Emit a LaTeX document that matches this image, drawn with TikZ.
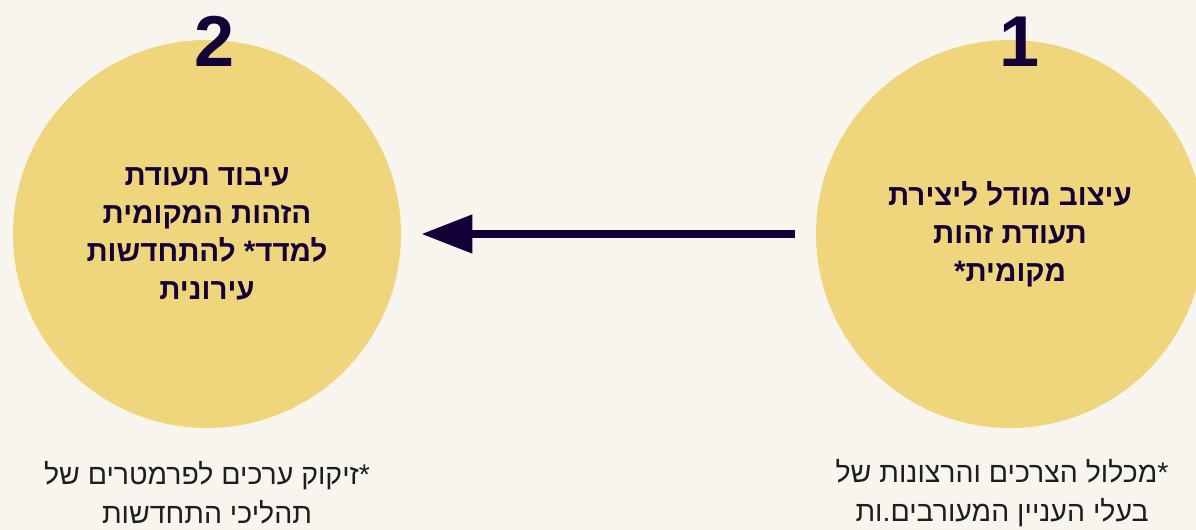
\documentclass[tikz,border=0pt]{standalone}
\usepackage{fontspec}
\setmainfont{Liberation Sans}
\newfontfamily\hebfont[Script=Hebrew]{Liberation Sans}
\TeXXeTstate=1
\usepackage{tikz}
\usetikzlibrary{arrows.meta,positioning}
\definecolor{bgcream}{HTML}{F8F5EF}
\definecolor{sunyellow}{HTML}{EFD67D}
\definecolor{inknavy}{HTML}{130238}
\definecolor{notegray}{HTML}{1E1E1E}
\tikzset{
         stage/.style=
          {
           circle,fill=sunyellow,minimum size=388*0.02cm,inner sep=0,
           text=inknavy,align=center,
           font=\hebfont\bfseries\fontsize{16.8}{21.6}\selectfont
          },
         stagenum/.style={text=inknavy,font=\bfseries\fontsize{41}{41}\selectfont,inner sep=0},
         footnote/.style={text=notegray,align=center,inner sep=0,
           font=\hebfont\fontsize{16.2}{22}\selectfont},
         flow/.style={draw=inknavy,line width=4.5pt,-{Triangle[length=29pt,width=21pt]}}
        }

\begin{document}
\begin{tikzpicture}[x=0.02cm,y=-0.02cm]
\fill[bgcream](0,0)rectangle(1196,530);
\useasboundingbox(0,0)rectangle(1196,530);
%circles
\node[stage](design)at(1010,234){\beginR עיצוב מודל ליצירת\endR\\\beginR תעודת זהות\endR\\\beginR מקומית*\endR};
\node[stage](process)at(207,234){\beginR עיבוד תעודת\endR\\\beginR הזהות המקומית\endR\\\beginR למדד* להתחדשות\endR\\\beginR עירונית\endR};
%numbers
\node[stagenum](num1)at([xshift=10*0.02cm,yshift=-2*0.02cm]design.north){1};
\node[stagenum](num2)at([xshift=8*0.02cm,yshift=-2*0.02cm]process.north){2};
%arrow
\draw[flow](design.west)++(-21,0)coordinate(tail)--([xshift=20*0.02cm]process.east);
%notes
\node[footnote](note1)at(1002,493){\beginR *מכלול הצרכים והרצונות של\endR\\\beginR בעלי העניין המעורבים.ות\endR};
\node[footnote](note2)at(207,493){\beginR *זיקוק ערכים לפרמטרים של\endR\\\beginR תהליכי התחדשות\endR};
\end{tikzpicture}
\end{document}
